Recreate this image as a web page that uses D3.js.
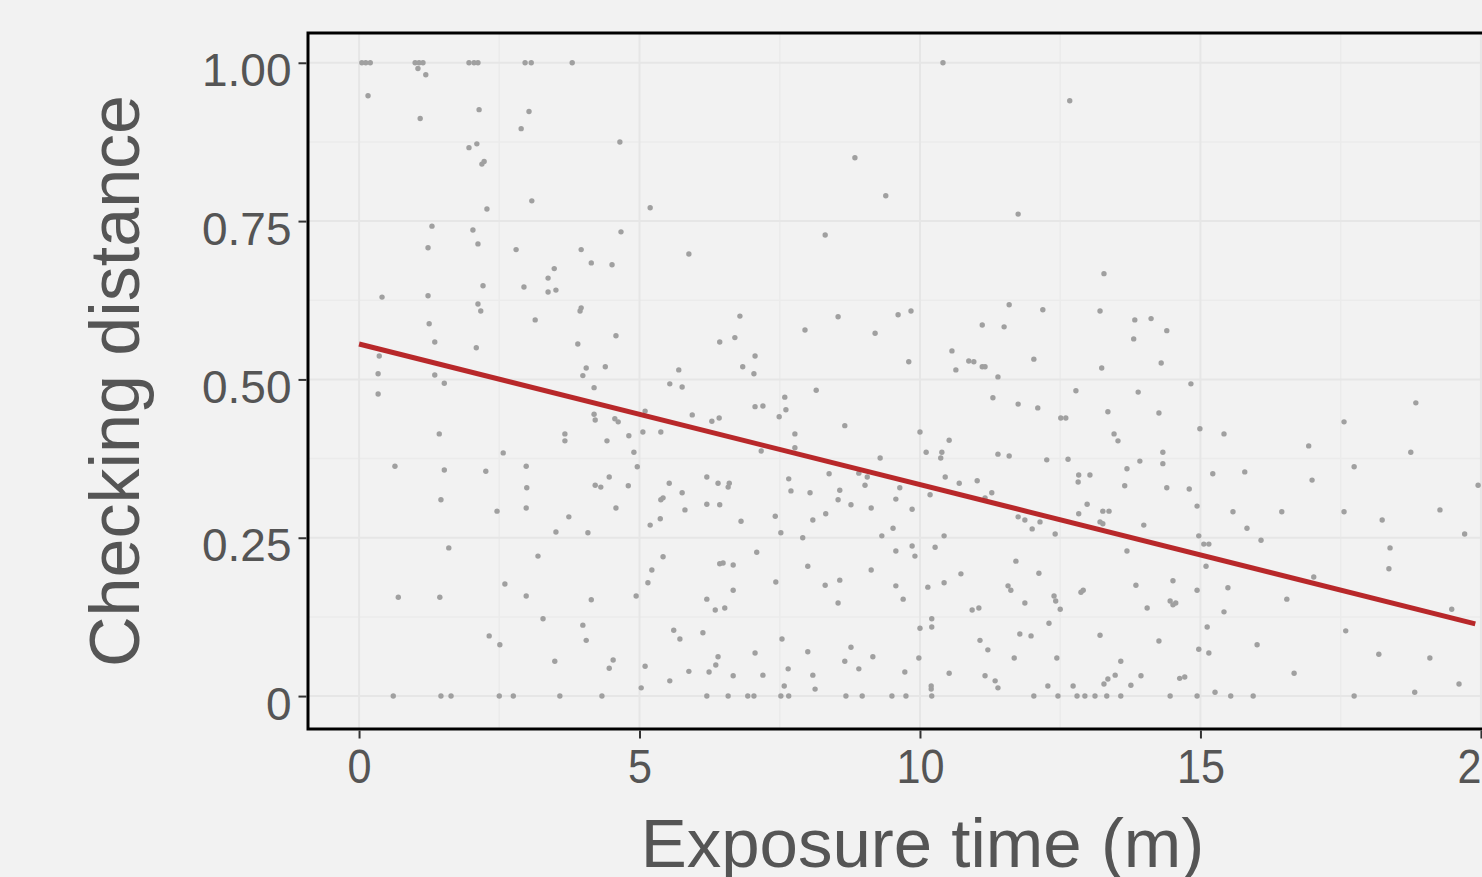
<!DOCTYPE html>
<html>
<head>
<meta charset="utf-8">
<script src="https://cdn.jsdelivr.net/npm/d3@7"></script>
<style>
  body { margin: 0; background: #f2f2f2; overflow: hidden; }
  svg { display: block; }
</style>
</head>
<body>
<svg width="1482" height="877"></svg>
<script>
const WIDTH = 1482;
const HEIGHT = 877;
const PANEL = { left: 308, top: 33, right: 1537, bottom: 729 };
const FONT = "'Liberation Sans', Arial, Helvetica, sans-serif";
const TEXT_COLOR = "#555555";

// exposure time (minutes) of each observation
const exposure = [
  0.05, 0.12, 0.20, 1.00, 1.07, 1.14, 1.05, 1.19, 1.96, 2.05, 2.12, 2.96, 3.07, 3.80,
  0.16, 2.14, 1.09, 3.03, 2.89, 4.65, 1.96, 2.10, 2.19, 2.23,
  3.08, 2.28, 5.19, 1.30, 2.03, 1.23, 2.12, 2.80, 4.67, 3.96,
  4.14, 4.51, 5.88, 3.48, 3.37, 3.37, 3.51, 2.94, 2.21, 0.41,
  1.23, 2.12, 2.17, 3.96, 3.94, 3.14, 1.25, 1.35, 2.09, 3.90,
  4.58, 0.36, 0.34, 1.35, 1.52, 4.05, 3.99, 4.39, 5.70, 5.54,
  10.41, 12.67, 8.84, 9.39, 11.75, 8.31, 6.79, 6.43, 6.70, 7.06,
  6.84, 7.04, 7.95, 8.54, 9.20, 9.61, 9.84, 9.80, 10.57, 10.64,
  10.87, 10.96, 11.11, 11.16, 11.39, 11.11, 11.50, 11.59, 12.19, 12.03, 13.21,
  13.28, 13.83, 14.12, 14.40, 13.81, 13.24, 14.30, 14.83,
  0.34, 4.19, 5.76, 5.94, 5.10, 4.19, 4.21, 4.56, 4.62, 1.43,
  3.67, 3.67, 4.42, 4.81, 5.06, 5.38, 4.90, 2.57, 0.64, 1.52,
  2.26, 2.98, 4.96, 4.46, 4.21, 4.31, 4.80, 5.53, 5.76, 6.20,
  5.38, 5.42, 5.81, 6.20, 2.99, 1.46, 2.98, 2.46, 3.74, 4.58,
  5.37, 5.19, 3.51, 4.08, 1.60, 3.19, 5.42, 5.22, 5.15, 2.60,
  0.70, 1.44, 2.98, 4.14, 4.94, 6.20, 3.28, 3.99, 4.05, 2.32,
  2.51, 5.61, 5.72, 6.13, 3.49, 4.53, 4.46, 5.10, 5.54, 5.88,
  6.24, 5.03,
  0.61, 1.46, 1.64, 2.50, 2.75, 3.58, 4.33, 6.20,
  8.15, 7.59, 7.61, 7.49, 7.06, 7.20, 6.29, 6.42, 7.17, 7.77,
  7.77, 8.66, 10.00, 11.30, 11.75, 12.10, 12.78, 12.51, 12.60, 10.52,
  10.11, 10.39, 10.37, 11.39, 11.59, 12.26, 12.64, 9.29, 8.38, 8.91,
  9.06, 9.02, 9.64, 6.40, 6.60, 6.58, 7.66, 7.70, 8.04, 8.57,
  8.54, 8.77, 9.13, 9.57, 9.86, 10.18, 10.45, 10.70, 11.02, 11.28,
  11.16, 6.43, 6.81, 7.42, 7.52, 8.09, 8.32, 7.91, 9.32, 9.52,
  10.43, 11.75, 11.87, 12.00, 12.14, 12.41, 12.83, 12.98, 12.82, 12.83,
  13.03, 13.21, 13.26, 7.09, 6.43, 6.49, 6.67, 6.35, 6.52, 6.67,
  7.43, 8.00, 8.31, 8.57, 8.54, 9.13, 9.57, 9.86, 9.91, 10.27,
  9.57, 9.70, 10.14, 10.43, 10.73, 10.93, 11.05, 11.71, 11.57, 11.62,
  11.87, 12.12, 12.39, 12.42, 12.50, 12.91, 12.87, 6.40, 6.36, 6.67,
  7.06, 7.20, 7.54, 7.65, 7.58, 8.00, 8.09, 8.13, 8.77, 8.66,
  8.91, 9.16, 9.73, 9.98, 10.00, 10.21, 10.21, 10.20, 10.20, 10.52,
  11.07, 11.21, 11.16, 11.34, 11.39, 11.68, 11.78, 11.98, 12.30, 12.44,
  12.28, 12.73, 13.21,
  6.58, 6.93, 7.04, 7.52, 7.66, 8.68, 8.97, 9.50, 9.75, 10.21,
  12.03, 12.46, 12.80, 12.94, 13.12,
  13.89, 13.35, 14.26, 13.46, 13.53, 14.99, 15.42, 18.84, 17.56, 16.93,
  18.75, 14.33, 13.92, 14.33, 13.69, 13.65, 14.40, 14.80, 15.22, 15.79,
  16.99, 17.74, 19.95, 14.94, 15.58, 16.45, 17.56, 18.24, 19.27, 19.71,
  13.26, 13.37, 13.99, 14.97, 15.06, 15.15, 15.83, 16.08, 13.69, 15.10,
  17.02, 18.38, 18.36, 13.85, 14.51, 14.94, 15.49, 14.46, 14.56, 14.51,
  14.05, 15.42, 16.54, 19.48, 14.26, 15.12, 14.97, 15.15, 16.01, 17.59,
  18.18, 19.09, 13.58, 13.48, 13.35, 13.28, 13.76, 13.94, 14.63, 14.72,
  16.67, 19.61, 15.26, 18.82,
  13.33, 13.58, 14.46, 14.94, 15.54, 15.94, 17.74
];

// checking distance, same order as exposure
const distance = [
  1, 1, 1, 1, 1, 1, 0.991, 0.981, 1, 1, 1, 1, 1, 1,
  0.948, 0.926, 0.912, 0.923, 0.896, 0.875, 0.866, 0.872, 0.840, 0.844,
  0.782, 0.769, 0.771, 0.742, 0.736, 0.708, 0.714, 0.705, 0.733, 0.705,
  0.684, 0.681, 0.698, 0.675, 0.660, 0.638, 0.641, 0.646, 0.648, 0.630,
  0.632, 0.619, 0.608, 0.613, 0.608, 0.594, 0.588, 0.559, 0.550, 0.556,
  0.569, 0.537, 0.509, 0.507, 0.494, 0.518, 0.506, 0.520, 0.515, 0.493,
  1, 0.940, 0.850, 0.790, 0.761, 0.728, 0.600, 0.559, 0.566, 0.537,
  0.520, 0.509, 0.578, 0.599, 0.573, 0.602, 0.608, 0.528, 0.545, 0.515,
  0.529, 0.528, 0.520, 0.520, 0.504, 0.586, 0.583, 0.618, 0.610, 0.532, 0.608,
  0.667, 0.594, 0.596, 0.577, 0.564, 0.518, 0.526, 0.493,
  0.477, 0.487, 0.488, 0.444, 0.450, 0.445, 0.436, 0.438, 0.433, 0.414,
  0.414, 0.403, 0.403, 0.411, 0.417, 0.417, 0.385, 0.384, 0.363, 0.357,
  0.355, 0.363, 0.362, 0.346, 0.333, 0.330, 0.332, 0.336, 0.321, 0.346,
  0.310, 0.313, 0.294, 0.303, 0.329, 0.310, 0.297, 0.292, 0.283, 0.297,
  0.280, 0.270, 0.259, 0.258, 0.234, 0.221, 0.220, 0.199, 0.179, 0.177,
  0.156, 0.156, 0.158, 0.152, 0.158, 0.153, 0.122, 0.112, 0.088, 0.095,
  0.081, 0.104, 0.090, 0.100, 0.055, 0.057, 0.044, 0.047, 0.024, 0.039,
  0.038, 0.013,
  0, 0, 0, 0, 0, 0, 0, 0,
  0.483, 0.472, 0.452, 0.441, 0.457, 0.458, 0.434, 0.439, 0.387, 0.414,
  0.392, 0.427, 0.417, 0.471, 0.461, 0.455, 0.482, 0.439, 0.439, 0.404,
  0.385, 0.385, 0.376, 0.382, 0.379, 0.373, 0.374, 0.376, 0.351, 0.352,
  0.346, 0.333, 0.329, 0.336, 0.336, 0.330, 0.343, 0.324, 0.321, 0.325,
  0.310, 0.302, 0.297, 0.311, 0.295, 0.318, 0.346, 0.336, 0.340, 0.321,
  0.313, 0.302, 0.276, 0.284, 0.258, 0.278, 0.288, 0.250, 0.253, 0.265,
  0.253, 0.283, 0.278, 0.264, 0.275, 0.256, 0.288, 0.303, 0.338, 0.349,
  0.349, 0.275, 0.272, 0.227, 0.209, 0.210, 0.207, 0.136, 0.139, 0.167,
  0.180, 0.205, 0.175, 0.183, 0.147, 0.199, 0.229, 0.237, 0.221, 0.235,
  0.174, 0.153, 0.172, 0.179, 0.193, 0.136, 0.139, 0.213, 0.174, 0.167,
  0.147, 0.194, 0.158, 0.150, 0.137, 0.167, 0.164, 0.062, 0.049, 0.032,
  0.068, 0.033, 0.090, 0.043, 0.016, 0.070, 0.033, 0.011, 0.077, 0.055,
  0.043, 0.062, 0.038, 0.060, 0.107, 0.122, 0.109, 0.016, 0.011, 0.036,
  0.088, 0.073, 0.032, 0.024, 0.013, 0.060, 0.098, 0.095, 0.115, 0.060,
  0.016, 0.016, 0.096,
  0, 0, 0, 0, 0, 0, 0, 0, 0, 0,
  0, 0, 0, 0, 0,
  0.480, 0.449, 0.447, 0.414, 0.403, 0.422, 0.414, 0.463, 0.433, 0.395,
  0.385, 0.385, 0.371, 0.367, 0.359, 0.332, 0.329, 0.327, 0.351, 0.354,
  0.341, 0.362, 0.333, 0.300, 0.291, 0.291, 0.291, 0.278, 0.294, 0.256,
  0.292, 0.292, 0.270, 0.253, 0.240, 0.240, 0.265, 0.246, 0.229, 0.205,
  0.188, 0.234, 0.201, 0.175, 0.182, 0.167, 0.171, 0.150, 0.147, 0.144,
  0.139, 0.133, 0.153, 0.137, 0.087, 0.109, 0.074, 0.068, 0.081, 0.103,
  0.066, 0.060, 0.055, 0.033, 0.027, 0.019, 0.017, 0.032, 0.028, 0.030,
  0.036, 0.019, 0.006, 0.006,
  0, 0, 0, 0, 0, 0, 0
];

// fitted linear trend, start and end
const trendExposure = [0, 19.9];
const trendDistance = [0.556, 0.114];

const xTicks = [0, 5, 10, 15, 20];
const xMinor = [2.5, 7.5, 12.5, 17.5];
const yTicks = [0, 0.25, 0.5, 0.75, 1];
const yTickLabels = ["0", "0.25", "0.50", "0.75", "1.00"];
const yMinor = [0.125, 0.375, 0.625, 0.875];

const svg = d3.select("svg");

const x = d3.scaleLinear()
  .domain([-0.91, 21])
  .range([PANEL.left, PANEL.right]);

const y = d3.scaleLinear()
  .domain([-0.052, 1.047])
  .range([PANEL.bottom, PANEL.top]);

svg.append("rect")
  .attr("width", WIDTH)
  .attr("height", HEIGHT)
  .attr("fill", "#f2f2f2");

// grid, minor first then major
function vLines(values, color, width) {
  svg.append("g")
    .selectAll("line")
    .data(values)
    .enter()
    .append("line")
    .attr("x1", d => x(d))
    .attr("x2", d => x(d))
    .attr("y1", PANEL.top)
    .attr("y2", PANEL.bottom)
    .attr("stroke", color)
    .attr("stroke-width", width);
}

function hLines(values, color, width) {
  svg.append("g")
    .selectAll("line")
    .data(values)
    .enter()
    .append("line")
    .attr("x1", PANEL.left)
    .attr("x2", PANEL.right)
    .attr("y1", d => y(d))
    .attr("y2", d => y(d))
    .attr("stroke", color)
    .attr("stroke-width", width);
}

vLines(xMinor, "#ebebeb", 1.5);
hLines(yMinor, "#ebebeb", 1.5);
vLines(xTicks, "#e6e6e6", 2);
hLines(yTicks, "#e6e6e6", 2);

// points
svg.append("g")
  .selectAll("circle")
  .data(d3.zip(exposure, distance))
  .enter()
  .append("circle")
  .attr("cx", d => x(d[0]))
  .attr("cy", d => y(d[1]))
  .attr("r", 2.7)
  .attr("fill", "#a0a0a0");

// trend line
svg.append("path")
  .datum(d3.zip(trendExposure, trendDistance))
  .attr("d", d3.line().x(d => x(d[0])).y(d => y(d[1])))
  .attr("fill", "none")
  .attr("stroke", "#b8282a")
  .attr("stroke-width", 5);

// panel border
svg.append("rect")
  .attr("x", PANEL.left)
  .attr("y", PANEL.top)
  .attr("width", PANEL.right - PANEL.left)
  .attr("height", PANEL.bottom - PANEL.top)
  .attr("fill", "none")
  .attr("stroke", "#000")
  .attr("stroke-width", 3);

// axes
const xAxis = svg.append("g")
  .attr("transform", `translate(0,${PANEL.bottom + 1.5})`)
  .call(d3.axisBottom(x).tickValues(xTicks).tickSize(8));
const yAxis = svg.append("g")
  .attr("transform", `translate(${PANEL.left - 1.5},0)`)
  .call(d3.axisLeft(y).tickValues(yTicks).tickSize(8).tickPadding(7)
    .tickFormat((d, i) => yTickLabels[i]));

[xAxis, yAxis].forEach(a => {
  a.select(".domain").remove();
  a.selectAll(".tick line").attr("stroke", "#333").attr("stroke-width", 2);
  a.selectAll(".tick text")
    .attr("fill", TEXT_COLOR)
    .style("font-family", FONT);
});

xAxis.selectAll(".tick text")
  .attr("y", 52.5)
  .attr("dy", 0)
  .attr("transform", "scale(0.9,1)")
  .style("font-size", "48px");

yAxis.selectAll(".tick text")
  .attr("dy", "0.5em")
  .style("font-size", "46px");

// axis titles
svg.append("text")
  .attr("x", (PANEL.left + PANEL.right) / 2)
  .attr("y", 867)
  .attr("text-anchor", "middle")
  .attr("fill", TEXT_COLOR)
  .style("font-family", FONT)
  .style("font-size", "69px")
  .text("Exposure time (m)");

svg.append("text")
  .attr("transform", `translate(139,${(PANEL.top + PANEL.bottom) / 2}) rotate(-90)`)
  .attr("text-anchor", "middle")
  .attr("fill", TEXT_COLOR)
  .style("font-family", FONT)
  .style("font-size", "70px")
  .text("Checking distance");
</script>
</body>
</html>
